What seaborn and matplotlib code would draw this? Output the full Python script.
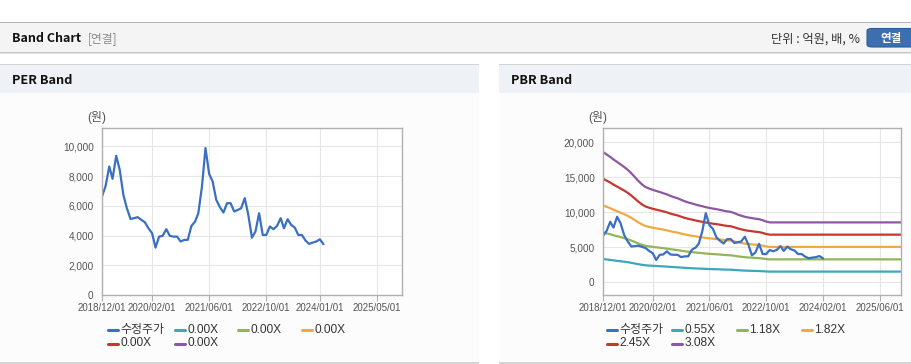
import numpy as np
import pandas as pd
import matplotlib
matplotlib.use('Agg')
import matplotlib.pyplot as plt
import seaborn as sns
from matplotlib.patches import Rectangle, FancyBboxPatch
from matplotlib.lines import Line2D
from matplotlib.ticker import FuncFormatter

# ---------------- data ----------------
price_start = '2018-12-01'
price = [6630, 7350, 8650, 7820, 9370, 8430, 6740, 5840, 5120, 5170,
         5240, 5060, 4900, 4490, 4160, 3190, 3930, 3980, 4430, 3980,
         3930, 3930, 3600, 3710, 3710, 4650, 4940, 5500, 7300, 9890,
         8160, 7640, 6400, 5910, 5550, 6180, 6180, 5620, 5730, 5840,
         6520, 5390, 3860, 4270, 5500, 4040, 4040, 4610, 4430, 4650,
         5170, 4490, 5100, 4720, 4540, 4040, 4040, 3660, 3440, 3530,
         3600, 3750, 3420]

# book value per share (monthly from 2018-12, then held flat to 2025-12)
bps = [6044, 5930, 5820, 5700, 5584, 5470, 5350, 5220, 5060, 4880,
       4700, 4540, 4420, 4350, 4290, 4240, 4190, 4136, 4080, 4010,
       3950, 3900, 3830, 3760, 3705, 3660, 3610, 3570, 3530, 3487,
       3450, 3420, 3393, 3360, 3320, 3290, 3269, 3210, 3140, 3090,
       3040, 3006, 2980, 2950, 2929, 2880, 2820, 2780]
bps_end_date = '2025-12-01'
bps_end_value = 2780

pbr_multiples = [0.55, 1.18, 1.82, 2.45, 3.08]
per_multiples = [0.00, 0.00, 0.00, 0.00, 0.00]

per_xticks = ['2018/12/01', '2020/02/01', '2021/06/01', '2022/10/01', '2024/01/01', '2025/05/01']
pbr_xticks = ['2018/12/01', '2020/02/01', '2021/06/01', '2022/10/01', '2024/02/01', '2025/06/01']
per_yticks = [0, 2000, 4000, 6000, 8000, 10000]
pbr_yticks = [0, 5000, 10000, 15000, 20000]

price_label = '수정주가'
price_color = '#3a6fc2'
band_colors = ['#3aa9bd', '#93b558', '#efaa42', '#c6382e', '#8d58a0']

# ---------------- build tables ----------------
price_dates = pd.date_range(price_start, periods=len(price), freq='MS')
df_price = pd.DataFrame({'date': price_dates, 'value': price})

band_dates = list(pd.date_range(price_start, periods=len(bps), freq='MS')) + [pd.Timestamp(bps_end_date)]
bps_full = bps + [bps_end_value]
band_names = [f'{m:.2f}X' for m in pbr_multiples]
rows = []
for m, name in zip(pbr_multiples, band_names):
    for d, b in zip(band_dates, bps_full):
        rows.append({'date': d, 'value': m * b, 'band': name})
df_bands = pd.DataFrame(rows)

# ---------------- figure ----------------
sns.set_theme(style='white')
plt.rcParams['font.family'] = ['Liberation Sans', 'Noto Sans CJK KR']

W, H = 912, 364
fig = plt.figure(figsize=(W / 100, H / 100), dpi=100)
fig.patch.set_facecolor('white')


def rect(x0, y0, x1, y1, color):
    fig.patches.append(Rectangle((x0 / W, 1 - y1 / H), (x1 - x0) / W, (y1 - y0) / H,
                                 transform=fig.transFigure, facecolor=color,
                                 edgecolor='none', zorder=-5))


def ftext(x, y, s, **kw):
    fig.text(x / W, 1 - y / H, s, transform=fig.transFigure, **kw)


# top header bar
rect(0, 22, W, 23.3, '#b4b4b4')
rect(0, 23.3, W, 52, '#f4f4f4')
rect(0, 52, W, 53.3, '#c4c4c4')
rect(0, 53.3, W, 54.3, '#e4e4e4')
ftext(12, 39, 'Band Chart', fontsize=9.0, fontweight='bold', color='#111111',
      va='center', ha='left', family=['Noto Sans CJK KR'])
ftext(88, 39, '[연결]', fontsize=8.5, color='#8a8a8a', va='center', ha='left',
      family=['Noto Sans CJK KR'])
ftext(860, 39, '단위 : 억원, 배, %', fontsize=8.8, color='#333333', va='center', ha='right',
      family=['Noto Sans CJK KR'])
btn = FancyBboxPatch((867 / W, 1 - 47 / H), 60 / W, 18.5 / H,
                     boxstyle='round,pad=0,rounding_size=0.006',
                     transform=fig.transFigure, facecolor='#3c6eb0',
                     edgecolor='#2f5d98', lw=0.8, zorder=-4)
fig.patches.append(btn)
ftext(891, 38.5, '연결', fontsize=8.3, color='white', fontweight='bold',
      va='center', ha='center', family=['Noto Sans CJK KR'])

# panels
for (x0, x1, title) in [(0, 479, 'PER Band'), (499, W, 'PBR Band')]:
    rect(x0, 63.5, x1, 64.8, '#d4d4d4')
    rect(x0, 64.8, x1, 93, '#eef2f7')
    rect(x0, 93, x1, 362, '#fcfcfc')
    rect(x0, 362, x1, 363.5, '#d4d4d4')
    ftext(x0 + 12, 80, title, fontsize=9.2, fontweight='bold', color='#111111',
          va='center', ha='left', family=['Noto Sans CJK KR'])


def make_axes(left, right, top=128, bottom=295):
    ax = fig.add_axes([left / W, 1 - bottom / H, (right - left) / W, (bottom - top) / H])
    ax.set_zorder(3)
    return ax


def style_axes(ax, xticks, yticks, ylim):
    ax.set_facecolor('white')
    ax.set_xlim(pd.Timestamp('2018-12-01'), pd.Timestamp('2025-12-01'))
    ax.set_ylim(*ylim)
    tick_dates = pd.to_datetime(xticks, format='%Y/%m/%d')
    ax.set_xticks(tick_dates)
    ax.set_xticklabels(xticks)
    ax.set_yticks(yticks)
    ax.yaxis.set_major_formatter(FuncFormatter(lambda v, p: f'{v:,.0f}'))
    ax.grid(True, color='#e6e6e6', lw=0.8)
    ax.set_axisbelow(True)
    for s in ax.spines.values():
        s.set_color('#b0b0b0')
        s.set_linewidth(1.0)
    ax.tick_params(axis='x', length=4, width=0.8, color='#b0b0b0', labelsize=7.0,
                   labelcolor='#555555', pad=2, bottom=True)
    ax.tick_params(axis='y', length=0, labelsize=7.2, labelcolor='#555555', pad=6, left=True)
    ax.set_xlabel('')
    ax.set_ylabel('')


# PER chart
ax1 = make_axes(102, 402)
sns.lineplot(data=df_price, x='date', y='value', ax=ax1, color=price_color, lw=1.6)
style_axes(ax1, per_xticks, per_yticks, (0, 11240))
ax1.text(-0.016, 1.06, '(원)', transform=ax1.transAxes, fontsize=8.6, color='#555555',
         ha='center', va='center')

# PBR chart
ax2 = make_axes(603, 901)
sns.lineplot(data=df_bands, x='date', y='value', hue='band', hue_order=band_names,
             palette=band_colors, ax=ax2, lw=1.6, legend=False)
sns.lineplot(data=df_price, x='date', y='value', ax=ax2, color=price_color, lw=1.6)
style_axes(ax2, pbr_xticks, pbr_yticks, (-1814, 22053))
ax2.text(-0.017, 1.06, '(원)', transform=ax2.transAxes, fontsize=8.6, color='#555555',
         ha='center', va='center')


# legends (manual, Highcharts-like layout)
def legend(x_starts, labels, colors, rows_y):
    for i, (lab, col) in enumerate(zip(labels, colors)):
        x = x_starts[i % 4]
        y = rows_y[i // 4]
        fig.lines.append(Line2D([x / W, (x + 10) / W], [1 - y / H, 1 - y / H],
                                transform=fig.transFigure, color=col, lw=2.2))
        ftext(x + 12.5, y, lab, fontsize=8.6, color='#333333', va='center', ha='left')


legend([108, 175, 238, 302], [price_label] + [f'{m:.2f}X' for m in per_multiples],
       [price_color] + band_colors, [330, 343.5])
legend([607, 672, 737, 802], [price_label] + band_names,
       [price_color] + band_colors, [330, 343.5])

fig.savefig('out.png', dpi=100)
